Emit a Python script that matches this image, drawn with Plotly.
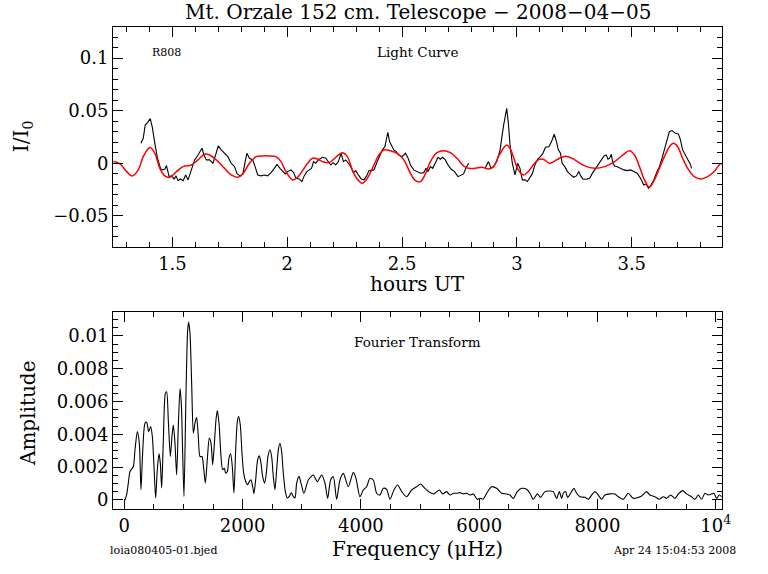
import plotly.graph_objects as go

# ---------------- Light curve (black: data, red: fit) ----------------
lc_hours = [1.3625, 1.3727, 1.3813, 1.3914, 1.4030, 1.4117, 1.4232, 1.4348, 1.4478, 1.4565,
            1.4666, 1.4738, 1.4854, 1.4970, 1.5071, 1.5158, 1.5244, 1.5345, 1.5461, 1.5577,
            1.5678, 1.5765, 1.5851, 1.5967, 1.6112, 1.6285, 1.6372, 1.6473, 1.6618, 1.6762,
            1.6878, 1.6993, 1.7123, 1.7268, 1.7413, 1.7557, 1.7702, 1.7817, 1.7947, 1.8063,
            1.8135, 1.8237, 1.8352, 1.8497, 1.8598, 1.8714, 1.8858, 1.9003, 1.9147, 1.9292,
            1.9436, 1.9552, 1.9682, 1.9798, 1.9913, 2.0014, 2.0159, 2.0275, 2.0376, 2.0520,
            2.0636, 2.0737, 2.0853, 2.0954, 2.1055, 2.1142, 2.1243, 2.1344,
            2.1532, 2.1677, 2.1792, 2.1894, 2.1995, 2.2110, 2.2226, 2.2342, 2.2443,
            2.2544, 2.2660, 2.2761, 2.2877, 2.2978, 2.3093, 2.3223, 2.3339, 2.3455, 2.3556,
            2.3672, 2.3773, 2.3888, 2.4018, 2.4134, 2.4250, 2.4307, 2.4380, 2.4452, 2.4539,
            2.4640, 2.4741, 2.4857, 2.5001, 2.5146, 2.5262, 2.5363, 2.5507, 2.5652, 2.5796,
            2.5941, 2.6042, 2.6129, 2.6230, 2.6331, 2.6447, 2.6563, 2.6664, 2.6765, 2.6881,
            2.6996, 2.7141, 2.7286, 2.7430, 2.7575, 2.7676, 2.7777, 2.7893,
            None,
            2.8615, 2.8760, 2.8876, 2.8977, 2.9121, 2.9266, 2.9410, 2.9555, 2.9627, 2.9699,
            2.9800, 2.9916, 3.0032, 3.0133, 3.0234, 3.0350, 3.0451, 3.0567, 3.0668, 3.0783,
            3.0899, 3.1015, 3.1116, 3.1246, 3.1391, 3.1506, 3.1622, 3.1723, 3.1795, 3.1896,
            3.1969, 3.2085, 3.2200, 3.2345, 3.2475, 3.2590, 3.2691, 3.2778, 3.2879, 3.3024,
            3.3168, 3.3270, 3.3385, 3.3501, 3.3602, 3.3675, 3.3790, 3.3891, 3.3964, 3.4036,
            3.4108, 3.4180, 3.4253, 3.4368, 3.4513, 3.4657, 3.4802, 3.4947, 3.5091, 3.5236,
            3.5380, 3.5525, 3.5626, 3.5727, 3.5843, 3.5958, 3.6103, 3.6204, 3.6305, 3.6421,
            3.6537, 3.6638, 3.6753, 3.6898, 3.7028, 3.7115, 3.7216, 3.7317, 3.7433, 3.7548,
            3.7606]
lc_flux = [0.0190, 0.0238, 0.0364, 0.0387, 0.0425, 0.0349, 0.0190, 0.0048, -0.0048, -0.0063,
           -0.0057, -0.0022, -0.0127, -0.0120, -0.0149, -0.0120, -0.0165, -0.0149, -0.0165, -0.0111,
           -0.0158, -0.0095, -0.0041, 0.0032, 0.0079, 0.0143, 0.0079, 0.0032, 0.0032, 0.0000,
           0.0079, 0.0165, 0.0127, 0.0095, 0.0063, 0.0000, -0.0032, -0.0101, -0.0120, -0.0101,
           -0.0032, 0.0095, 0.0048, 0.0032, -0.0032, -0.0111, -0.0120, -0.0111, -0.0120, -0.0089,
           -0.0048, -0.0010, -0.0048, -0.0079, -0.0101, -0.0079, -0.0063, -0.0089, -0.0143, -0.0149,
           -0.0174, -0.0120, -0.0079, -0.0063, -0.0048, 0.0016, 0.0000, 0.0032,
           0.0057, 0.0048, 0.0016, -0.0016, 0.0006, -0.0016, 0.0016, 0.0095, 0.0016,
           0.0032, 0.0000, -0.0032, -0.0089, -0.0070, -0.0111, -0.0149, -0.0158, -0.0120, -0.0070,
           -0.0070, -0.0063, 0.0000, 0.0063, 0.0127, 0.0158, 0.0228, 0.0295, 0.0206, 0.0174,
           0.0127, 0.0111, 0.0079, 0.0063, 0.0095, 0.0048, -0.0016, -0.0063, -0.0079, -0.0095,
           -0.0089, -0.0048, -0.0079, -0.0032, -0.0048, 0.0006, 0.0057, 0.0038, 0.0057, 0.0032,
           -0.0016, -0.0057, -0.0079, -0.0127, -0.0111, -0.0101, -0.0048, 0.0000,
           None,
           -0.0048, 0.0016, -0.0048, -0.0032, 0.0016, 0.0127, 0.0349, 0.0523, 0.0380, 0.0174,
           0.0000, -0.0111, 0.0000, -0.0048, -0.0158, -0.0158, -0.0174, -0.0133, -0.0101, -0.0016,
           0.0038, 0.0063, 0.0089, 0.0152, 0.0158, 0.0206, 0.0276, 0.0206, 0.0133, 0.0095,
           0.0000, -0.0032, -0.0079, -0.0111, -0.0133, -0.0120, -0.0079, -0.0120, -0.0152, -0.0152,
           -0.0143, -0.0101, -0.0063, -0.0025, 0.0000, 0.0032, 0.0070, 0.0079, 0.0038, 0.0048,
           0.0086, 0.0000, -0.0025, -0.0032, -0.0048, -0.0063, -0.0070, -0.0063, -0.0079, -0.0095,
           -0.0143, -0.0206, -0.0196, -0.0238, -0.0206, -0.0158, -0.0079, -0.0032, 0.0038, 0.0127,
           0.0238, 0.0301, 0.0311, 0.0285, 0.0279, 0.0228, 0.0127, 0.0079, 0.0038, -0.0006,
           -0.0048]

fit_hours = [1.2426, 1.2715, 1.3004, 1.3250, 1.3510, 1.3727, 1.4016, 1.4232, 1.4449, 1.4666,
             1.4883, 1.5172, 1.5461, 1.5823, 1.6112, 1.6401, 1.6618, 1.6907, 1.7268, 1.7557,
             1.7846, 1.8063, 1.8352, 1.8642, 1.8930, 1.9219, 1.9509, 1.9726, 1.9942, 2.0231,
             2.0448, 2.0665, 2.0882, 2.1098, 2.1344, 2.1532, 2.1821, 2.2110, 2.2399, 2.2616,
             2.2833, 2.3050, 2.3267, 2.3484, 2.3773, 2.3990, 2.4206, 2.4496, 2.4785, 2.5074,
             2.5363, 2.5580, 2.5796, 2.6013, 2.6230, 2.6519, 2.6808, 2.7098, 2.7387, 2.7676,
             2.7893, 2.8182, 2.8471, 2.8760, 2.8977, 2.9194, 2.9410, 2.9555, 2.9699, 2.9844,
             3.0061, 3.0277, 3.0494, 3.0711, 3.0928, 3.1145, 3.1434, 3.1723, 3.2012, 3.2229,
             3.2518, 3.2952, 3.3385, 3.3819, 3.4253, 3.4614, 3.4903, 3.5120, 3.5337, 3.5554,
             3.5770, 3.5987, 3.6204, 3.6421, 3.6638, 3.6811, 3.6999, 3.7216, 3.7433, 3.7722,
             3.8011, 3.8300, 3.8589, 3.8806, 3.8930]
fit_flux = [0.0016, -0.0006, -0.0079, -0.0120, -0.0063, 0.0063, 0.0149, 0.0095, -0.0048, -0.0120,
            -0.0133, -0.0079, -0.0032, -0.0016, 0.0032, 0.0086, 0.0079, 0.0032, -0.0048, -0.0111,
            -0.0133, -0.0101, 0.0000, 0.0063, 0.0070, 0.0070, 0.0063, 0.0016, -0.0079, -0.0158,
            -0.0133, -0.0070, 0.0000, 0.0048, 0.0038, 0.0016, 0.0006, 0.0057, 0.0101, 0.0063,
            -0.0063, -0.0152, -0.0190, -0.0143, -0.0016, 0.0079, 0.0127, 0.0120, 0.0095, 0.0032,
            -0.0095, -0.0165, -0.0174, -0.0101, 0.0016, 0.0101, 0.0120, 0.0101, 0.0048, -0.0025,
            -0.0048, -0.0048, -0.0038, -0.0054, -0.0032, 0.0063, 0.0143, 0.0174, 0.0143, 0.0063,
            -0.0063, -0.0111, -0.0079, -0.0016, 0.0032, 0.0038, 0.0000, 0.0032, 0.0063, 0.0063,
            0.0032, -0.0025, -0.0048, -0.0032, 0.0016, 0.0079, 0.0120, 0.0079, -0.0032, -0.0158,
            -0.0228, -0.0158, -0.0048, 0.0063, 0.0158, 0.0190, 0.0158, 0.0048, -0.0048, -0.0127,
            -0.0149, -0.0127, -0.0079, -0.0016, 0.0000]

# ---------------- Fourier transform ----------------
ft_freq = [12, 40, 68, 96, 124, 153, 181, 220, 254, 282, 310, 350, 378, 412, 446, 474, 502, 530,
           558, 587, 609, 632, 660, 694, 716, 744, 778, 806, 829, 857, 885, 913, 942, 964, 987,
           1009, 1043, 1071, 1088, 1111, 1139, 1167, 1195, 1223, 1251, 1280, 1313, 1342, 1370,
           1403, 1437, 1466, 1494, 1516, 1550, 1573, 1601, 1635, 1663, 1691, 1713, 1742, 1770,
           1798, 1826, 1854, 1883, 1911, 1933, 1961, 1990, 2018, 2052, 2085, 2114, 2142, 2170,
           2192, 2221, 2254, 2283, 2311, 2339, 2373, 2401, 2429, 2463, 2491, 2519, 2547, 2576,
           2604, 2632, 2660, 2688, 2722, 2756, 2790, 2824, 2857, 2886, 2914, 2953, 2987,
           3038, 3111, 3195, 3263, 3336, 3393, 3438, 3488, 3534, 3590, 3646, 3703, 3787, 3872,
           3917, 3984, 4041, 4097, 4153, 4210, 4266, 4322, 4379, 4435, 4491, 4559, 4621, 4689,
           4773, 4858, 4942, 5010, 5083, 5168, 5235, 5325, 5382, 5449, 5506, 5562, 5619, 5675,
           5731, 5788, 5844, 5900, 5968, 6013, 6069, 6126, 6210, 6295, 6379, 6464, 6520, 6576,
           6644, 6717, 6802, 6858, 6914, 6982, 7038, 7112, 7196, 7253, 7309, 7354, 7393, 7422,
           7461, 7495, 7546, 7602, 7647, 7703, 7788, 7844, 7901, 7957, 8013, 8070, 8126, 8211,
           8295, 8351, 8436, 8520, 8605, 8690, 8746, 8830, 8887, 8971, 9044, 9112, 9169, 9236,
           9309, 9366, 9439, 9506, 9591, 9647, 9704, 9760, 9817, 9873, 9930, 9969, 10014, 10059,
           10099]
ft_amp = [0.0, 0.00032, 0.00103, 0.00174, 0.00188, 0.00204, 0.00306, 0.00417, 0.00346, 0.00063,
          0.00285, 0.00468, 0.00474, 0.00417, 0.00447, 0.00387, 0.00204, 0.00012, 0.00184, 0.00281,
          0.00225, 0.00073, 0.00366, 0.0065, 0.0066, 0.00488, 0.00265, 0.00387, 0.00457, 0.00346,
          0.00154, 0.00447, 0.0068, 0.00589, 0.00285, 0.00022, 0.0065, 0.01034, 0.01085, 0.01014,
          0.0071, 0.00407, 0.00468, 0.00504, 0.00387, 0.00265, 0.00265, 0.00194, 0.00103, 0.00245,
          0.00377, 0.00346, 0.00215, 0.00306, 0.00488, 0.00545, 0.00468, 0.00265, 0.00184, 0.00194,
          0.00164, 0.00174, 0.00255, 0.00281, 0.00204, 0.00043, 0.00306, 0.00478, 0.00508, 0.00457,
          0.00285, 0.00164, 0.00113, 0.00093, 0.00113, 0.00123, 0.00083, 0.00038, 0.00123, 0.00245,
          0.00269, 0.00225, 0.00144, 0.00103, 0.00164, 0.00265, 0.00306, 0.00265, 0.00144, 0.00063,
          0.00184, 0.00306, 0.00346, 0.00296, 0.00164, 0.00053, 0.00012, 0.00022, 0.00043, 0.00022,
          0.00012, 0.00103, 0.00144, 0.00103,
          0.00041, 0.00122, 0.00152, 0.00112, 0.00152, 0.00102, 0.0001, 0.00122, 0.00142, 0.00004,
          0.00122, 0.00162, 0.00081, 0.00168, 0.00132, 0.0002, 0.00061, 0.00081, 0.00132, 0.00122,
          0.00041, 0.0003, 0.00071, 0.00065, 0.00004, 0.00061, 0.00091, 0.00051, 0.0002, 0.00061,
          0.00081, 0.00097, 0.00071, 0.00045, 0.00037, 0.00061, 0.00037, 0.00051, 0.0003, 0.00041,
          0.00041, 0.00045, 0.00037, 0.00041, 0.0003, 0.00037, 0.00004, 0.0001, 0.00006, 0.00041,
          0.00081, 0.00071, 0.00041, 0.00037, 0.0003, 0.0001, 0.00051, 0.00071, 0.00065, 0.00041,
          0.00004, 0.00037, 0.00016, 0.00051, 0.00055, 0.00051, 0.0001, 0.00051, 0.0001, 0.00041,
          0.00051, 0.00016, 0.00041, 0.00071, 0.00041, 0.0002, 0.00016, 0.00004, 0.0003, 0.00051,
          0.0003, 0.00004, 0.0003, 0.00037, 0.00037, 0.0002, 0.00004, 0.00041, 0.0001, 0.00016,
          0.00024, 0.00051, 0.0003, 0.0002, 0.00004, 0.0002, 0.0001, 0.0003, 0.0001, 0.00035,
          0.00057, 0.00037, 0.0002, 0.00004, 0.0003, 0.00004, 0.00041, 0.0003, 0.00037, 0.00041,
          0.0001, 0.0003, 0.0002]

ft_tickvals = [0, 2000, 4000, 6000, 8000, 10000]
ft_ticktext = ["0", "2000", "4000", "6000", "8000", "10<sup>4</sup>"]

FONT = "DejaVu Serif"

fig = go.Figure()
fig.add_trace(go.Scatter(x=lc_hours, y=lc_flux, mode="lines", connectgaps=False,
                         line=dict(color="black", width=1.1), xaxis="x", yaxis="y",
                         showlegend=False, hoverinfo="skip"))
fig.add_trace(go.Scatter(x=fit_hours, y=fit_flux, mode="lines",
                         line=dict(color="red", width=1.5, shape="spline", smoothing=1.0),
                         xaxis="x", yaxis="y", showlegend=False, hoverinfo="skip"))
fig.add_trace(go.Scatter(x=ft_freq, y=ft_amp, mode="lines",
                         line=dict(color="black", width=1.1, shape="spline", smoothing=0.7),
                         xaxis="x2", yaxis="y2", showlegend=False, hoverinfo="skip"))

axis_common = dict(showgrid=False, zeroline=False, showline=True, linecolor="black",
                   linewidth=1, mirror="ticks", ticks="inside", ticklen=10, tickwidth=1,
                   tickcolor="black", tickfont=dict(family=FONT, size=18, color="black"))

fig.update_layout(
    width=768, height=574,
    margin=dict(l=113, r=46, t=27, b=65),
    paper_bgcolor="white", plot_bgcolor="white",
    xaxis=dict(domain=[0, 1], anchor="y", range=[1.241, 3.893], tickmode="linear",
               tick0=1.5, dtick=0.5,
               minor=dict(ticks="inside", ticklen=5, tickcolor="black", tickmode="linear",
                          tick0=1.5, dtick=0.1),
               **axis_common),
    yaxis=dict(domain=[0.5436, 1], anchor="x", range=[-0.0796, 0.1296], tickmode="linear",
               tick0=0, dtick=0.05,
               minor=dict(ticks="inside", ticklen=5, tickcolor="black", tickmode="linear",
                          tick0=0, dtick=0.01),
               **axis_common),
    xaxis2=dict(domain=[0, 1], anchor="y2", range=[-191, 10105], tickmode="array",
                tickvals=ft_tickvals, ticktext=ft_ticktext,
                minor=dict(ticks="inside", ticklen=5, tickcolor="black", tickmode="linear",
                           tick0=0, dtick=500),
                **axis_common),
    yaxis2=dict(domain=[0, 0.408], anchor="x2", range=[-0.00055, 0.01144], tickmode="linear",
                tick0=0, dtick=0.002,
                minor=dict(ticks="inside", ticklen=5, tickcolor="black", tickmode="linear",
                           tick0=0, dtick=0.0005),
                **axis_common),
)

def note(text, x, y, size, xanchor="center", angle=0):
    fig.add_annotation(text=text, x=x, y=y, xref="paper", yref="paper", showarrow=False,
                       xanchor=xanchor, yanchor="middle", textangle=angle,
                       font=dict(family=FONT, size=size, color="black"))

note("Mt. Orzale 152 cm. Telescope \u2212 2008\u221204\u221205", 0.5, 1.031, 20)
note("R808", 0.0608, 0.948, 11, xanchor="left")
note("Light Curve", 0.5, 0.948, 13.5)
note("hours UT", 0.5, 0.467, 20)
note("I/I<sub>0</sub>", -0.149, 0.772, 20, angle=-90)
note("Fourier Transform", 0.5, 0.346, 13.5)
note("Amplitude", -0.1396, 0.199, 20, angle=-90)
note("Frequency (\u03bcHz)", 0.5, -0.083, 20)
note("loia080405-01.bjed", -0.0082, -0.087, 11, xanchor="left")
note("Apr 24 15:04:53 2008", 1.026, -0.087, 11, xanchor="right")

# Remove the default 8px page margin so the figure sits at the window's top-left corner.
fig.write_html("out.html",
               config={"displayModeBar": False},
               post_script="document.body.style.margin='0px';document.body.style.overflow='hidden';")
